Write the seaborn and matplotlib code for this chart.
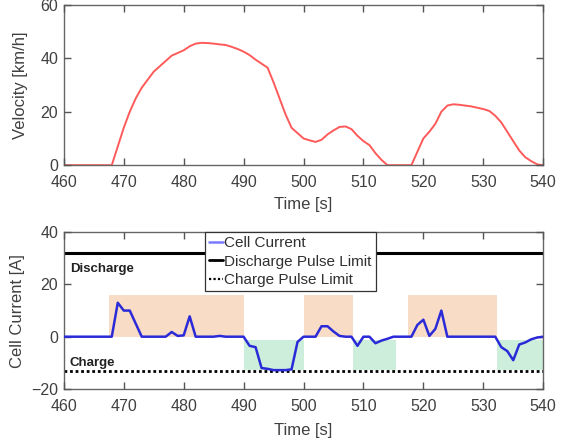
import numpy as np
import pandas as pd
import matplotlib
matplotlib.use("Agg")
import matplotlib.pyplot as plt
from matplotlib.lines import Line2D
import seaborn as sns

sns.set_theme(style="white")
plt.rcParams['font.family'] = ['Liberation Sans', 'DejaVu Sans']
plt.rcParams.update({
    'xtick.bottom': True, 'xtick.top': True, 'ytick.left': True, 'ytick.right': True,
    'xtick.direction': 'in', 'ytick.direction': 'in',
    'xtick.major.size': 5, 'ytick.major.size': 5,
    'xtick.major.width': 1.0, 'ytick.major.width': 1.0,
    'xtick.color': '#555555', 'ytick.color': '#555555',
    'axes.axisbelow': False,
})

time_s = list(range(460, 541))
velocity = ([0] * 9 +                                                    # 460-468
            [7, 14, 20, 25, 29, 32, 35, 37, 39, 41, 42, 43, 44.5, 45.5,      # 469-482
             45.8, 45.7, 45.5, 45.2, 45, 44.3, 43.5, 42.5, 41.2, 39.5,       # 483-492
             38, 36.5, 31, 25, 19, 14, 12, 10, 9.3, 8.7,                     # 493-502
             9.5, 11.5, 13, 14.3, 14.5, 13.5, 11, 9, 7.5, 4.5,               # 503-512
             2, 0, 0, 0, 0, 0, 5, 10, 12.5, 15.5,                            # 513-522
             20, 22.3, 22.8, 22.6, 22.3, 22, 21.5, 21, 20.3, 18.5,           # 523-532
             16, 12.5, 9, 5.5, 3, 1.5, 0.3, 0])                              # 533-540
current = ([0] * 9 +                                                     # 460-468
           [13, 10, 10, 5, 0, 0, 0, 0, 0, 1.8,                               # 469-478
            0.3, 0.5, 7.8, 0, 0, 0, 0, 0.3, 0, 0,                            # 479-488
            0, 0, -3.5, -4, -12, -12.3, -12.8, -12.8, -12.8, -12.5,          # 489-498
            -2, 0, 0, 0, 4, 4, 2, 0.3, 0, 0,                                 # 499-508
            -3.5, 0, 0, -2.5, -1.5, -0.8, 0, 0, 0, 0,                        # 509-518
            4.5, 6.5, 0.3, 3, 10, 0, 0, 0, 0, 0,                             # 519-528
            0, 0, 0, 0, -4, -5.5, -9, -3, -2.2, -1,                          # 529-538
            -0.3, 0])                                                        # 539-540
discharge_limit = 32
charge_limit = -13.2
discharge_spans = [(467.5, 490), (500, 508.3), (517.5, 532.3)]
charge_spans = [(490, 500), (508.3, 515.5), (532.3, 540)]

df = pd.DataFrame({"t": time_s, "v": velocity, "i": current})

fig = plt.figure(figsize=(5.7, 4.44), dpi=100)
ax1 = fig.add_axes([0.112, 0.628, 0.841, 0.361])
ax2 = fig.add_axes([0.112, 0.124, 0.841, 0.353])

tc = '#404040'
for ax in (ax1, ax2):
    for s in ax.spines.values():
        s.set_color('#666666')
        s.set_linewidth(1.0)
    ax.tick_params(labelsize=11.5, labelcolor=tc)
    ax.tick_params(axis='x', pad=7)
    ax.tick_params(axis='y', pad=4)
    ax.set_xlim(460, 540)
    ax.set_xticks(range(460, 541, 10))

sns.lineplot(data=df, x="t", y="v", ax=ax1, color='#ff5a5a', linewidth=1.4)
ax1.set_ylim(0, 60)
ax1.set_yticks([0, 20, 40, 60])
ax1.set_xlabel("Time [s]", fontsize=12, color=tc, labelpad=5)
ax1.set_ylabel("Velocity [km/h]", fontsize=12, color=tc)
ax1.yaxis.set_label_coords(-0.075, 0.5)

for a, b in discharge_spans:
    ax2.fill_between([a, b], 0, 16, color='#f9dcc6', linewidth=0, zorder=0)
for a, b in charge_spans:
    ax2.fill_between([a, b], -1.2, -12.8, color='#cdeedb', linewidth=0, zorder=0)

ax2.axhline(discharge_limit, color='black', linewidth=2.2, zorder=2)
ax2.axhline(charge_limit, color='black', linewidth=2.0, linestyle=(0, (1, 1)), zorder=2)
sns.lineplot(data=df, x="t", y="i", ax=ax2, color='#2a2ad8', linewidth=1.8, zorder=3)
ax2.set_ylim(-20, 40)
ax2.set_yticks([-20, 0, 20, 40])
ax2.set_xlabel("Time [s]", fontsize=12, color=tc, labelpad=7)
ax2.set_ylabel("Cell Current [A]", fontsize=12, color=tc)
ax2.yaxis.set_label_coords(-0.081, 0.5)

handles = [Line2D([], [], color='#7a7aff', linewidth=1.8),
           Line2D([], [], color='black', linewidth=2.0),
           Line2D([], [], color='black', linewidth=1.6, linestyle=(0, (1, 1)))]
leg = ax2.legend(handles, ['Cell Current', 'Discharge Pulse Limit', 'Charge Pulse Limit'],
                 loc='upper left', bbox_to_anchor=(0.295, 1.0), fontsize=11,
                 handlelength=0.9, handletextpad=0.1, borderpad=0.25, labelspacing=0.3,
                 frameon=True, fancybox=False, borderaxespad=0)
leg.get_frame().set_edgecolor('#333333')
leg.get_frame().set_linewidth(0.9)
leg.get_frame().set_alpha(1)
leg.set_zorder(5)
for t in leg.get_texts():
    t.set_color('#303030')

ax2.text(461, 26, "Discharge", fontsize=9.5, fontweight='bold', color='#222222', va='center')
ax2.text(461, -10, "Charge", fontsize=9.5, fontweight='bold', color='#222222', va='center')

fig.savefig("out.png", dpi=100)
